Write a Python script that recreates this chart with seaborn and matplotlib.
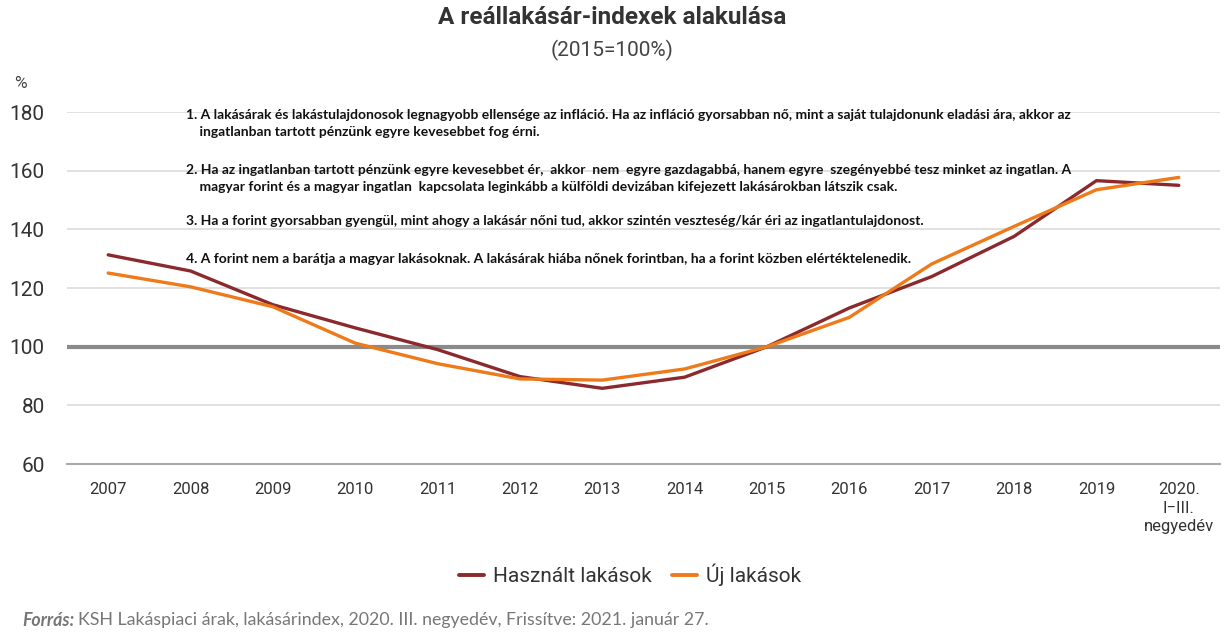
import matplotlib
matplotlib.use("Agg")
import matplotlib.pyplot as plt
import seaborn as sns
import pandas as pd
import numpy as np
from matplotlib.lines import Line2D

categories = ["2007", "2008", "2009", "2010", "2011", "2012", "2013", "2014",
              "2015", "2016", "2017", "2018", "2019", "2020.\nI\u2212III.\nnegyedév"]
used = [131.3, 125.8, 114.3, 106.4, 99.0, 89.8, 85.8, 89.6, 100.0, 113.2, 123.9, 137.6, 156.6, 155.0]
new = [125.1, 120.4, 113.6, 101.2, 94.2, 89.0, 88.6, 92.4, 100.0, 110.0, 128.2, 141.0, 153.5, 157.7]
series_names = ["Használt lakások", "Új lakások"]
colors = ["#8B2A2C", "#EE7A1A"]
y_ticks = [60, 80, 100, 120, 140, 160, 180]

note_lines = [
    "1. A lakásárak és lakástulajdonosok legnagyobb ellensége az infláció. Ha az infláció gyorsabban nő, mint a saját tulajdonunk eladási ára, akkor az",
    "    ingatlanban tartott pénzünk egyre kevesebbet fog érni.",
    "2. Ha az ingatlanban tartott pénzünk egyre kevesebbet ér,  akkor  nem  egyre gazdagabbá, hanem egyre  szegényebbé tesz minket az ingatlan. A",
    "    magyar forint és a magyar ingatlan  kapcsolata leginkább a külföldi devizában kifejezett lakásárokban látszik csak.",
    "3. Ha a forint gyorsabban gyengül, mint ahogy a lakásár nőni tud, akkor szintén veszteség/kár éri az ingatlantulajdonost.",
    "4. A forint nem a barátja a magyar lakásoknak. A lakásárak hiába nőnek forintban, ha a forint közben elértéktelenedik.",
]

idx = np.arange(len(categories))
df = pd.DataFrame({
    "x": np.concatenate([idx, idx]),
    "value": used + new,
    "series": [series_names[0]] * len(idx) + [series_names[1]] * len(idx),
})

sns.set_style("white")
plt.rcParams["font.family"] = ["Roboto", "DejaVu Sans"]

W, H = 1224, 636
fig = plt.figure(figsize=(W / 100, H / 100), dpi=100)
ax_left, ax_right, ax_top, ax_bottom = 67, 1220, 112, 464
ax = fig.add_axes([ax_left / W, 1 - ax_bottom / H, (ax_right - ax_left) / W, (ax_bottom - ax_top) / H])

for yv in y_ticks:
    if yv in (60, 100):
        continue
    ax.axhline(yv, color="#DCDCDC", lw=1.2, zorder=0)
ax.axhline(100, color="#8A8A8A", lw=3, zorder=1)

sns.lineplot(data=df, x="x", y="value", hue="series", palette=colors,
             hue_order=series_names, lw=2.4, ax=ax, legend=False, zorder=3)

ax.set_xlim(-0.5, len(categories) - 0.5)
ax.set_ylim(60, 180)
ax.set_yticks(y_ticks)
ax.set_yticklabels([str(v) for v in y_ticks], fontsize=15, color="#333333")
ax.tick_params(axis="y", length=0, pad=16)
ax.set_xticks(idx)
ax.set_xticklabels(categories, fontsize=12, color="#333333", linespacing=1.3, va="top")
ax.set_xticks(np.arange(len(categories) + 1) - 0.5, minor=True)
ax.tick_params(axis="x", which="major", length=0, pad=13)
ax.tick_params(axis="x", which="minor", length=10, color="#AAAAAA", width=1.2, direction="out")
for s in ["top", "right", "left"]:
    ax.spines[s].set_visible(False)
ax.spines["bottom"].set_color("#AAAAAA")
ax.spines["bottom"].set_linewidth(1.5)
ax.set_xlabel("")
ax.set_ylabel("")

# notes (pixel y centres of each line)
note_px = [115, 132, 170, 187, 221, 259]
for t, py in zip(note_lines, note_px):
    fig.text(186 / W, 1 - py / H, t, fontsize=10.0, fontweight="bold",
             family=["Lato", "DejaVu Sans"], va="center", ha="left", color="#111111")

fig.text(0.5, 1 - 18 / H, "A reállakásár-indexek alakulása", ha="center", va="center",
         fontsize=17.5, fontweight="bold", color="#333333")
fig.text(0.5, 1 - 50 / H, "(2015=100%)", ha="center", va="center", fontsize=15, color="#444444")
fig.text(14 / W, 1 - 83 / H, "%", ha="left", va="center", fontsize=12.5, color="#444444")

# legend
handles = [Line2D([0], [0], color=c, lw=2.8) for c in colors]
fig.legend(handles, series_names, loc="center", bbox_to_anchor=(630 / W, 1 - 575 / H), ncol=2,
           frameon=False, fontsize=15, handlelength=1.2, columnspacing=1.0,
           handletextpad=0.4, labelcolor="#333333")

# source
t1 = fig.text(22 / W, 1 - 620 / H, "Forrás:", ha="left", va="center", fontsize=12.8, color="#777777",
              fontweight="bold", style="italic", family=["Lato", "DejaVu Sans"])
fig.canvas.draw()
bb = t1.get_window_extent(renderer=fig.canvas.get_renderer())
fig.text((bb.x1 + 4) / W, 1 - 620 / H,
         "KSH Lakáspiaci árak, lakásárindex, 2020. III. negyedév, Frissítve: 2021. január 27.",
         ha="left", va="center", fontsize=12.8, color="#777777", family=["Lato", "DejaVu Sans"])

fig.savefig("out.png", dpi=100)
